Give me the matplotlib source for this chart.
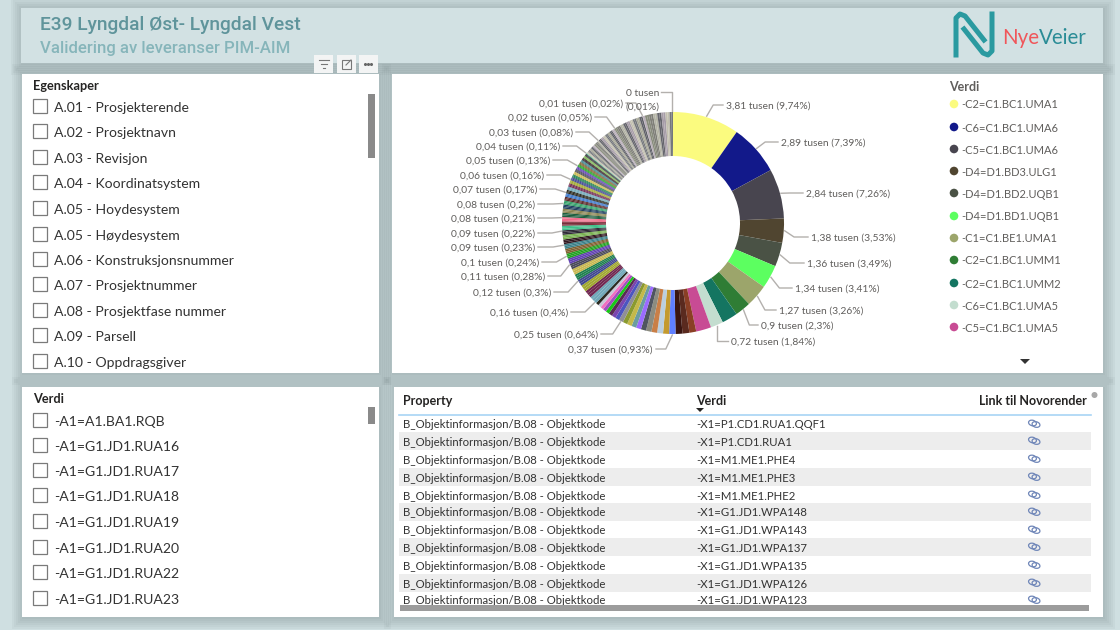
"""Recreate the Power BI validation page: slicers, donut and table."""
import matplotlib
matplotlib.use("Agg")
import matplotlib.pyplot as plt
import numpy as np
from matplotlib.patches import Rectangle, Ellipse, Polygon, Circle

W, H = 1120, 630
FONT = "Lato"
TITLE_FONT = "Roboto"
VA = "center_baseline"

# share of total in percent, clockwise from 12 o'clock. Each group ends in the slice that has the label
# label = (text, x of text edge, y, ha)
GROUPS = [
    ([9.74], ("3,81 tusen (9,74%)", 726, 105, "left")),
    ([7.39], ("2,89 tusen (7,39%)", 781, 142, "left")),
    ([7.26], ("2,84 tusen (7,26%)", 806, 193, "left")),
    ([3.53], ("1,38 tusen (3,53%)", 811, 237, "left")),
    ([3.49], ("1,36 tusen (3,49%)", 807, 263, "left")),
    ([3.41], ("1,34 tusen (3,41%)", 795, 288, "left")),
    ([3.26], ("1,27 tusen (3,26%)", 779, 310, "left")),
    ([2.30], ("0,9 tusen (2,3%)", 761, 325, "left")),
    ([2.30, 1.84], ("0,72 tusen (1,84%)", 731, 341, "left")),
    ([2.20, 1.00, 1.00, 1.00, 0.93], ("0,37 tusen (0,93%)", 653, 349, "right")),
    ([0.88, 0.86, 0.82, 0.80, 0.76, 0.72, 0.70, 0.70, 0.66, 0.64], ("0,25 tusen (0,64%)", 598, 334, "right")),
    ([0.60, 0.58, 0.55, 0.52, 0.50, 0.47, 0.45, 0.43, 0.40], ("0,16 tusen (0,4%)", 568, 312, "right")),
    ([0.39, 0.38, 0.37, 0.37, 0.36, 0.35, 0.34, 0.33, 0.32, 0.31, 0.30], ("0,12 tusen (0,3%)", 551, 292, "right")),
    ([0.30, 0.30, 0.30, 0.29, 0.29, 0.29, 0.28, 0.28, 0.28], ("0,11 tusen (0,28%)", 545, 276, "right")),
    ([0.27, 0.27, 0.26, 0.25, 0.24], ("0,1 tusen (0,24%)", 539, 262, "right")),
    ([0.24, 0.24, 0.24, 0.24, 0.23, 0.23, 0.23], ("0,09 tusen (0,23%)", 535, 247, "right")),
    ([0.23, 0.23, 0.23, 0.23, 0.22, 0.22, 0.22, 0.22, 0.22], ("0,09 tusen (0,22%)", 535, 233, "right")),
    ([0.22, 0.22, 0.22, 0.21, 0.21, 0.21, 0.21, 0.21, 0.21], ("0,08 tusen (0,21%)", 535, 218, "right")),
    ([0.21, 0.21, 0.21, 0.20, 0.20, 0.20, 0.20, 0.20, 0.20, 0.20], ("0,08 tusen (0,2%)", 535, 204, "right")),
    ([0.19, 0.19, 0.19, 0.18, 0.18, 0.18, 0.17, 0.17, 0.17], ("0,07 tusen (0,17%)", 537, 189, "right")),
    ([0.17, 0.17, 0.17, 0.17, 0.17, 0.17, 0.16, 0.16, 0.16, 0.16, 0.16, 0.16], ("0,06 tusen (0,16%)", 544, 175, "right")),
    ([0.16, 0.16, 0.15, 0.15, 0.15, 0.15, 0.15, 0.14, 0.14, 0.14, 0.14, 0.14, 0.14, 0.13, 0.13],
     ("0,05 tusen (0,13%)", 550, 160, "right")),
    ([0.13, 0.13, 0.13, 0.13, 0.13, 0.13, 0.12, 0.12, 0.12, 0.12, 0.12, 0.12, 0.12, 0.12, 0.11, 0.11, 0.11, 0.11],
     ("0,04 tusen (0,11%)", 560, 146, "right")),
    # below here the slices are too thin to see one by one, so these are bundled stripes
    ([0.16, 0.16, 0.16, 0.16, 0.16, 0.16, 0.16, 0.16, 0.16, 0.16, 0.16, 0.16, 0.16, 0.16, 0.16, 0.10],
     ("0,03 tusen (0,08%)", 573, 132, "right")),
    ([0.20, 0.20, 0.20, 0.20, 0.20, 0.20, 0.20, 0.20, 0.20, 0.20, 0.20, 0.20, 0.20, 0.20, 0.20],
     ("0,02 tusen (0,05%)", 592, 117, "right")),
    ([0.25, 0.25, 0.25, 0.25, 0.25, 0.25, 0.25, 0.25, 0.25, 0.25, 0.25, 0.25, 0.25, 0.25, 0.25, 0.25, 0.25, 0.05],
     ("0,01 tusen (0,02%)", 623, 103, "right")),
    ([0.30, 0.30, 0.30, 0.30, 0.30, 0.30, 0.30, 0.30, 0.30, 0.30, 0.30, 0.30, 0.30, 0.30, 0.20],
     ("0 tusen", 659, 92, "right")),
]

HEAD_COLORS = ["#FBFB7F", "#12198A", "#48454F", "#504530", "#4A5245", "#5CFF60", "#9CA56B", "#2F7D35",
               "#147561", "#C3DDCF", "#C84B94", "#8A3F25", "#5A2A1F", "#3A1510", "#5F7FFF", "#C49A2E",
               "#BBCFDF", "#C97F47", "#8C8C80", "#4F5560", "#9B6BFF", "#6B9DA0", "#C4B94A", "#8A9A2F",
               "#8F8F95", "#4C55C0", "#7A45B0", "#5A2A55", "#18C818", "#A050C0", "#F070C0", "#C8C8D8"]
MID_COLORS = ["#2E2A36", "#3FBF8A", "#7A2E3A", "#F06C8A", "#1E5E3E", "#8A8450", "#204060", "#35A06A",
              "#5A2A2A", "#3A76C8", "#2A2A20", "#70A8B8", "#702850", "#A0A830", "#404890", "#208050",
              "#C8B850", "#4A4A58", "#6040B0", "#20A020", "#806030", "#3A8088", "#301820", "#78B050"]
TAIL_COLORS = ["#7F7F78", "#B4B4A6", "#65656C", "#A79DA8", "#C3C0B0", "#75787C", "#A8A898", "#5F6068",
               "#B8AEB8", "#888C7C"]

LEGEND = [("-C2=C1.BC1.UMA1", "#FBFB7F"), ("-C6=C1.BC1.UMA6", "#12198A"), ("-C5=C1.BC1.UMA6", "#48454F"),
          ("-D4=D1.BD3.ULG1", "#504530"), ("-D4=D1.BD2.UQB1", "#4A5245"), ("-D4=D1.BD1.UQB1", "#5CFF60"),
          ("-C1=C1.BE1.UMA1", "#9CA56B"), ("-C2=C1.BC1.UMM1", "#2F7D35"), ("-C2=C1.BC1.UMM2", "#147561"),
          ("-C6=C1.BC1.UMA5", "#C3DDCF"), ("-C5=C1.BC1.UMA5", "#C84B94")]
LEGEND_Y = [104, 127, 149, 171, 193, 216, 238, 260, 283, 305, 327]

EGENSKAPER = ["A.01 - Prosjekterende", "A.02 - Prosjektnavn", "A.03 - Revisjon", "A.04 - Koordinatsystem",
              "A.05 - Hoydesystem", "A.05 - Høydesystem", "A.06 - Konstruksjonsnummer", "A.07 - Prosjektnummer",
              "A.08 - Prosjektfase nummer", "A.09 - Parsell", "A.10 - Oppdragsgiver"]
EGENSKAPER_Y = [107, 132, 158, 183, 209, 235, 260, 285, 311, 336, 362]
VERDI = ["-A1=A1.BA1.RQB", "-A1=G1.JD1.RUA16", "-A1=G1.JD1.RUA17", "-A1=G1.JD1.RUA18",
         "-A1=G1.JD1.RUA19", "-A1=G1.JD1.RUA20", "-A1=G1.JD1.RUA22", "-A1=G1.JD1.RUA23"]
VERDI_Y = [421, 446, 471, 496, 522, 548, 573, 599]
TABLE = ["-X1=P1.CD1.RUA1.QQF1", "-X1=P1.CD1.RUA1", "-X1=M1.ME1.PHE4", "-X1=M1.ME1.PHE3", "-X1=M1.ME1.PHE2",
         "-X1=G1.JD1.WPA148", "-X1=G1.JD1.WPA143", "-X1=G1.JD1.WPA137", "-X1=G1.JD1.WPA135",
         "-X1=G1.JD1.WPA126", "-X1=G1.JD1.WPA123"]
TABLE_Y = [424, 441, 459, 477, 495, 512, 530, 547, 565, 583, 600]


def panel(ax, x0, y0, x1, y1, color="white"):
    # soft shadow, then the panel
    for g in range(12, 0, -2):
        ax.add_patch(Rectangle((x0 - g + 2, y0 - g + 2), x1 - x0 + 2 * g - 2, y1 - y0 + 2 * g - 2,
                               fc="#5E6E6E", ec="none", alpha=0.055, zorder=1))
    p = Rectangle((x0, y0), x1 - x0, y1 - y0, fc=color, ec="none", zorder=2)
    ax.add_patch(p)
    return p


def main():
    fig = plt.figure(figsize=(W / 100, H / 100), dpi=100, facecolor="#CFDFE1")
    ax = fig.add_axes([0, 0, 1, 1], zorder=1)
    ax.set_xlim(0, W)
    ax.set_ylim(H, 0)
    ax.axis("off")

    # ---- panels ----
    panel(ax, 21, 8, 1103, 63, "#D2E1E3")
    slicer1 = panel(ax, 22, 74, 379, 373)
    panel(ax, 392, 74, 1103, 373)
    panel(ax, 22, 387, 379, 617)
    table = panel(ax, 394, 387, 1103, 617)

    # ---- header ----
    ax.text(40, 23, "E39 Lyngdal Øst- Lyngdal Vest", fontsize=13.8, family=TITLE_FONT, color="#5F949B",
            va=VA, zorder=5, fontweight="medium")
    ax.text(40, 47, "Validering av leveranser PIM-AIM", fontsize=12.1, family=TITLE_FONT, color="#86B5BA",
            va=VA, zorder=5, fontweight="medium")
    ax.plot([956, 956, 960, 965, 984], [55, 18, 14, 16, 40], color="#2A9AA0", lw=3.6, zorder=5,
            solid_joinstyle="round")
    ax.plot([992, 992, 988, 983, 964], [14, 51, 55, 53, 29], color="#2A9AA0", lw=3.6, zorder=5,
            solid_joinstyle="round")
    t = ax.text(1002, 36, "Nye", fontsize=14.8, family=FONT, color="#F0565A", va=VA, zorder=5)
    fig.canvas.draw()
    ext = t.get_window_extent()
    ax.text(ext.x1, 36, "Veier", fontsize=14.8, family=FONT, color="#2A8C96", va=VA, zorder=5)

    # ---- visual toolbar ----
    for x0 in [314, 337, 359]:
        ax.add_patch(Rectangle((x0, 55), 19, 18, fc="#F3F4F4", ec="none", zorder=6))
    for y, a, b in [(60, 319, 329), (64, 321, 327), (68, 323, 325)]:
        ax.plot([a, b], [y, y], color="#777777", lw=0.8, zorder=7)
    ax.add_patch(Rectangle((342, 60), 9, 9, fc="none", ec="#777777", lw=0.8, zorder=7))
    ax.plot([346, 351], [65, 60], color="#777777", lw=0.8, zorder=7)
    ax.plot([365, 368, 371], [64, 64, 64], ls="none", marker="o", ms=1.2, color="#666666", zorder=7)

    # ---- slicers ----
    ax.text(33, 85, "Egenskaper", fontsize=9.2, family=FONT, fontweight="bold", color="#252423",
            va=VA, zorder=5)
    ax.text(33, 398, "Verdi", fontsize=9.2, family=FONT, fontweight="bold", color="#252423",
            va=VA, zorder=5)
    for labels, ys in [(EGENSKAPER, EGENSKAPER_Y), (VERDI, VERDI_Y)]:
        for name, y in zip(labels, ys):
            ax.add_patch(Rectangle((33, y - 8), 14, 14, fc="white", ec="#7A7A7A", lw=0.9, zorder=5))
            txt = ax.text(54, y, name, fontsize=10.1, family=FONT, color="#333333", va=VA, zorder=5)
            if labels is EGENSKAPER:
                txt.set_clip_path(slicer1)
    ax.add_patch(Rectangle((368, 94), 7, 64, fc="#8A8A8A", ec="none", zorder=5))
    ax.add_patch(Rectangle((368, 407), 7, 17, fc="#8A8A8A", ec="none", zorder=5))

    # ---- donut ----
    cx, cy, r = 673, 223, 111
    values, colors, label_idx = [], [], []
    for vals, lab in GROUPS:
        values.extend(vals)
        label_idx.append((len(values) - 1, lab))
    tail_start = sum(len(g[0]) for g in GROUPS[:23])
    for i in range(len(values)):
        if i < len(HEAD_COLORS):
            colors.append(HEAD_COLORS[i])
        elif i < tail_start:
            # neighbouring slices share a colour so the thin ones show up as bands
            colors.append(MID_COLORS[(i // 3) % len(MID_COLORS)])
        else:
            colors.append(TAIL_COLORS[(i // 2) % len(TAIL_COLORS)])
    pie_ax = fig.add_axes([(cx - r) / W, (H - cy - r) / H, 2 * r / W, 2 * r / H], zorder=2)
    pie_ax.patch.set_alpha(0)
    wedges, _ = pie_ax.pie(values, colors=colors, startangle=90, counterclock=False, radius=1,
                           wedgeprops={"width": 44 / 111, "linewidth": 0})
    pie_ax.set_xlim(-1, 1)
    pie_ax.set_ylim(-1, 1)

    for idx, (text, tx, ty, ha) in label_idx:
        w = wedges[idx]
        mid = np.deg2rad((w.theta1 + w.theta2) / 2)
        ax_x = cx + (r + 1) * np.cos(mid)
        ax_y = cy - (r + 1) * np.sin(mid)
        ax.text(tx, ty, text, fontsize=7.4, family=FONT, color="#605E5C", ha=ha, va=VA, zorder=5)
        if text == "0 tusen":
            ax.text(tx, ty + 14, "(0,01%)", fontsize=7.4, family=FONT, color="#605E5C", ha=ha, va=VA, zorder=5)
            end = tx + 2
        else:
            end = tx - 3 if ha == "left" else tx + 3
        elbow_x = ax_x + 0.4 * (end - ax_x) if abs(end - ax_x) > 14 else ax_x
        ax.plot([ax_x, elbow_x, end], [ax_y, ty, ty], color="#B3B0AD", lw=1, zorder=4)

    # ---- legend ----
    ax.text(949, 86, "Verdi", fontsize=9, family=FONT, fontweight="bold", color="#605E5C", va=VA, zorder=5)
    for (name, col), y in zip(LEGEND, LEGEND_Y):
        ax.add_patch(Circle((954, y), 4.3, fc=col, ec="none", zorder=5))
        ax.text(961, y, name, fontsize=8, family=FONT, color="#605E5C", va=VA, zorder=5)
    ax.add_patch(Polygon([(1020, 359), (1030, 359), (1025, 364)], fc="#333333", ec="none", zorder=5))

    # ---- table ----
    ax.text(403, 400, "Property", fontsize=9, family=FONT, fontweight="bold", color="#252423", va=VA, zorder=5)
    ax.text(696, 400, "Verdi", fontsize=9, family=FONT, fontweight="bold", color="#252423", va=VA, zorder=5)
    ax.text(1087, 400, "Link til Novorender", fontsize=9, family=FONT, fontweight="bold", color="#252423",
            ha="right", va=VA, zorder=5)
    ax.add_patch(Polygon([(696, 408), (704, 408), (700, 412)], fc="#252423", ec="none", zorder=5))
    ax.plot([399, 1091], [415, 415], color="#A8D4F5", lw=1.2, zorder=5)
    for i, (val, y) in enumerate(zip(TABLE, TABLE_Y)):
        if i % 2 == 1:
            ax.add_patch(Rectangle((399, y - 8.8), 692, 17.6, fc="#EDEDED", ec="none", zorder=3))
        a = ax.text(403, y, "B_Objektinformasjon/B.08 - Objektkode", fontsize=8.2, family=FONT, color="#333333",
                    va=VA, zorder=5)
        b = ax.text(696, y, val, fontsize=8.2, family=FONT, color="#333333", va=VA, zorder=5)
        a.set_clip_path(table)
        b.set_clip_path(table)
        ax.add_patch(Ellipse((1032.5, y - 1), 8, 5.5, angle=15, fc="none", ec="#6F86B8", lw=0.9, zorder=5))
        ax.add_patch(Ellipse((1036, y + 0.5), 8, 5.5, angle=15, fc="none", ec="#6F86B8", lw=0.9, zorder=5))
    ax.add_patch(Rectangle((400, 605), 689, 6, fc="#9C9C9C", ec="none", zorder=6))
    ax.add_patch(Circle((1094.5, 395), 3, fc="#A8A8A8", ec="none", zorder=6))

    fig.savefig("out.png", dpi=100, facecolor=fig.get_facecolor())
    plt.close(fig)


if __name__ == "__main__":
    main()
